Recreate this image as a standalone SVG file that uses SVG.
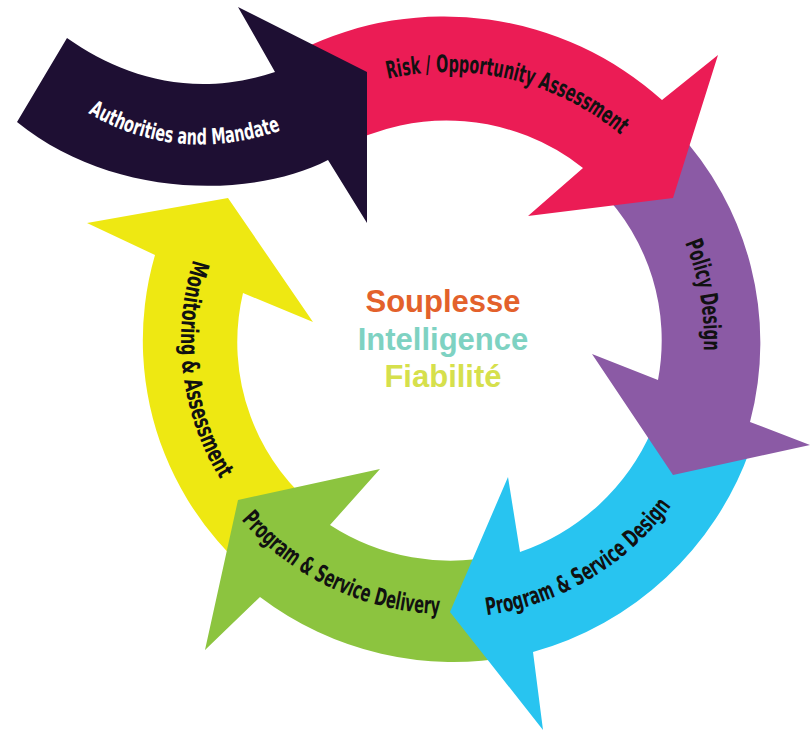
<svg xmlns="http://www.w3.org/2000/svg" width="810" height="731" viewBox="0 0 810 731">
  <style>
    .lbl { font-family: "Liberation Sans Narrow", "DejaVu Sans Condensed", "Liberation Sans", sans-serif; font-weight: bold; font-size: 24px; fill: #111111; }
    .lbl-light { fill: #ffffff; font-size: 22px; }
    .core { font-family: "Liberation Sans", Arial, sans-serif; font-weight: bold; font-size: 31px; text-anchor: middle; }
  </style>
  <defs>
    <!-- label baselines, arcs around the ring centre (448,340) -->
    <path id="p-auth" d="M 88,113 Q 178,166 282,130"/>
    <path id="p-risk" d="M 387.7,78.9 A 268 268 0 0 1 622,136.2"/>
    <path id="p-policy" d="M 684.9,242.9 A 256 256 0 0 1 703.7,352.1"/>
    <path id="p-design" d="M 486.7,615.3 A 278 278 0 0 0 672,504.6"/>
    <path id="p-delivery" d="M 241.2,519.8 A 274 274 0 0 0 443.2,614"/>
    <path id="p-monitor" d="M 193.4,259.7 A 267 267 0 0 0 221.6,481.5"/>
  </defs>

  <rect width="810" height="731" fill="#ffffff"/>

  <!-- ring of stage arrows, each one drawn over the tail of the next -->
  <g id="monitoring">
    <path fill="#EEE812" d="M 295,605 A 306 306 0 0 1 155,255 L 87,223 L 228,198 L 313,322 L 243,293 A 214 214 0 0 0 325,515 Z"/>
    <text class="lbl"><textPath href="#p-monitor" textLength="228" lengthAdjust="spacingAndGlyphs">Monitoring &amp; Assessment</textPath></text>
  </g>

  <g id="delivery">
    <path fill="#8CC43F" d="M 515,656 A 320 320 0 0 1 260,597 L 205,650 L 238,500 L 380,469 L 330,525 A 221 221 0 0 0 500,555 Z"/>
    <text class="lbl"><textPath href="#p-delivery" textLength="226" lengthAdjust="spacingAndGlyphs">Program &amp; Service Delivery</textPath></text>
  </g>

  <g id="design">
    <path fill="#28C4F0" d="M 652,430 L 750,450 A 322 322 0 0 1 533,652 L 543,730 L 450,612 L 508,477 L 520,552 A 223 223 0 0 0 652,430 Z"/>
    <text class="lbl"><textPath href="#p-design" textLength="220" lengthAdjust="spacingAndGlyphs">Program &amp; Service Design</textPath></text>
  </g>

  <g id="policy">
    <path fill="#8B5AA5" d="M 600,190 L 676,130 A 310 310 0 0 1 750,422 L 810,445 L 673,475 L 592,354 L 658,380 A 214 214 0 0 0 600,190 Z"/>
    <text class="lbl"><textPath href="#p-policy" textLength="110" lengthAdjust="spacingAndGlyphs">Policy Design</textPath></text>
  </g>

  <g id="risk">
    <path fill="#EB1C55" d="M 300,50 A 326 326 0 0 1 662,100 L 718,55 L 673,198 L 528,216 L 583,168 A 220 220 0 0 0 340,148 Z"/>
    <text class="lbl"><textPath href="#p-risk" textLength="248" lengthAdjust="spacingAndGlyphs">Risk / Opportunity Assessment</textPath></text>
  </g>

  <g id="authorities">
    <path fill="#1E0F33" d="M 17,122 L 67,38 C 120,75 190,100 275,72 L 238,7 L 367,72 L 367,223 L 328,160 C 250,200 110,198 17,122 Z"/>
    <text class="lbl lbl-light"><textPath href="#p-auth" textLength="200" lengthAdjust="spacingAndGlyphs">Authorities and Mandate</textPath></text>
  </g>

  <!-- the arrows themselves form the cycle, so this group stays empty -->
  <g id="connectors"/>

  <g id="core">
    <text class="core" x="443" y="312" fill="#E3612B">Souplesse</text>
    <text class="core" x="443" y="350" fill="#7ED2C2">Intelligence</text>
    <text class="core" x="443" y="387" fill="#D6E04C">Fiabilité</text>
  </g>
</svg>
